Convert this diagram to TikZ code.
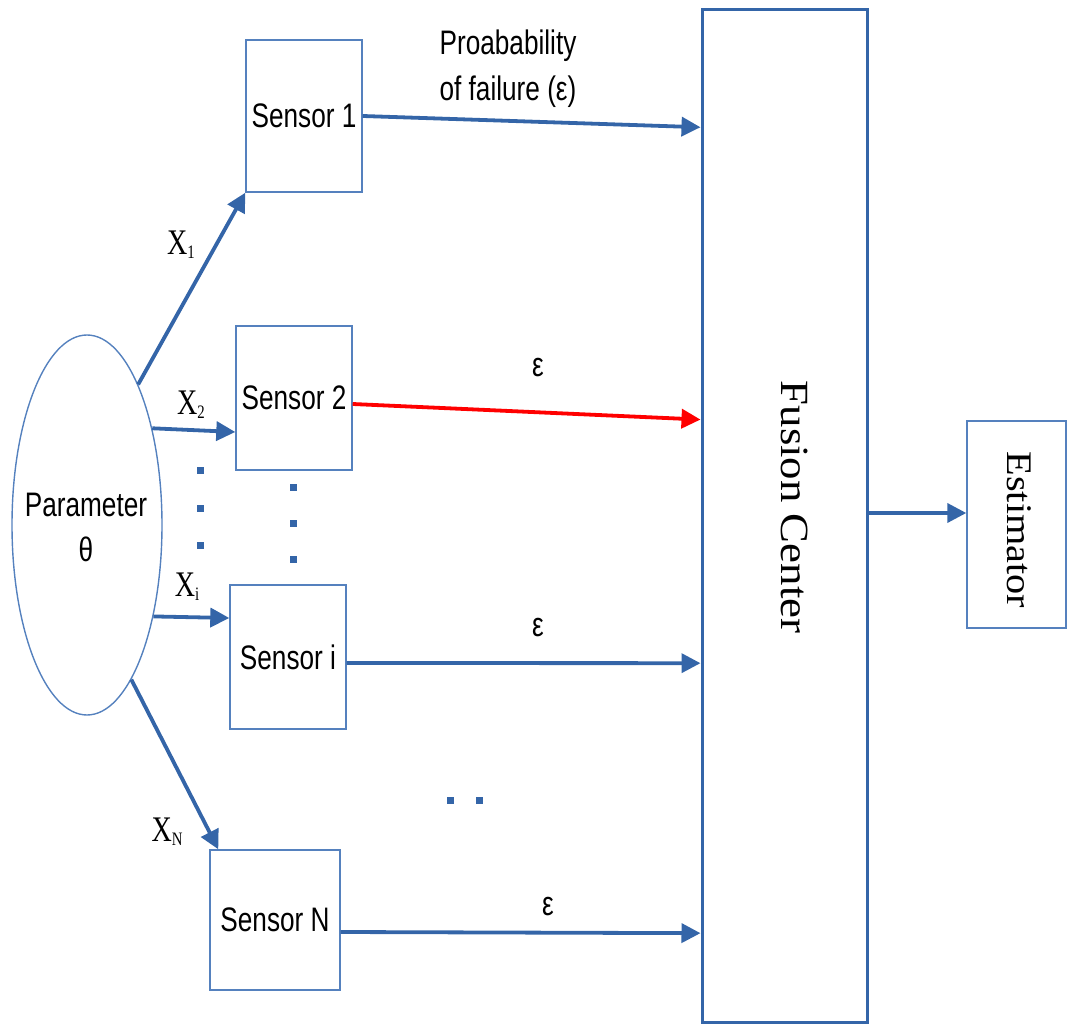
\documentclass[tikz,border=0pt]{standalone}
\usepackage{fontspec}
\setmainfont{Liberation Serif}
\newfontfamily\narrowsans[FakeStretch=0.77]{Liberation Sans}
\newfontfamily\narrowserif[FakeStretch=0.78]{Liberation Serif}
\newfontfamily\wideserif[FakeStretch=1.12]{Liberation Serif}
\usetikzlibrary{arrows.meta,%
                shapes,positioning,calc}
\definecolor{linkblue}{HTML}{3465A8}
\definecolor{boxblue}{HTML}{5581BE}
\newcommand{\xsub}[1]{\raisebox{-4pt}{\fontsize{19}{20}\selectfont #1}}

\begin{document}
\begin{tikzpicture}[x=1pt,y=-1pt,
  sensorbox/.style={draw=boxblue,line width=1.4pt,inner sep=0pt,
    font=\narrowsans\fontsize{34}{40}\selectfont},
  link/.style={draw=linkblue,line width=3.8pt,-{Triangle[length=19pt,width=19pt]}},
  sublabel/.style={inner sep=0pt,font=\narrowserif\fontsize{36}{40}\selectfont},
  eplabel/.style={inner sep=0pt,font=\narrowsans\fontsize{34}{46}\selectfont,align=center}]
\useasboundingbox (0,0) rectangle (1069,1024);

\node[ellipse,draw=boxblue,line width=1.4pt,minimum width=150pt,minimum height=380pt,inner sep=0pt] (param) at (87,525) {};
\node[eplabel,font=\narrowsans\fontsize{34}{45}\selectfont] (ptext) at (86,527) {Parameter\\θ};

\node[sensorbox,minimum width=116pt,minimum height=152pt] (s1) at (304,116) {Sensor 1};
\node[sensorbox,minimum width=116pt,minimum height=144pt] (s2) at (294,398) {Sensor 2};
\node[sensorbox,minimum width=116pt,minimum height=144pt] (si) at (288,657) {Sensor i};
\node[sensorbox,minimum width=130pt,minimum height=140pt] (sN) at (275,920) {Sensor N};

\node[draw=linkblue,line width=3pt,minimum width=165pt,minimum height=1012pt,inner sep=0pt] (fc) at (784.5,516) {};
\node[rotate=-90,inner sep=0pt,font=\wideserif\fontsize{40}{44}\selectfont] (fctext) at (795,507) {Fusion Center};
\node[draw=boxblue,line width=1.4pt,minimum width=99pt,minimum height=207pt,inner sep=0pt] (est) at (1016.5,524.5) {};
\node[rotate=-90,inner sep=0pt,font=\wideserif\fontsize{36}{40}\selectfont] (esttext) at (1019,530) {Estimator};

\draw[link] (param.70) -- (s1.south west);
\draw[link] (param.56) -- ([yshift=-34pt]s2.west);
\draw[link] (param.-54) -- ([yshift=39pt]si.west);
\draw[link] (param.-74) -- ([xshift=9pt]sN.north west);

\draw[link] (s1.east) -- ($(fc.north west)!0.117!(fc.south west)$);
\draw[link,draw=red] ([yshift=-6pt]s2.east) -- ($(fc.north west)!0.405!(fc.south west)$);
\draw[link] ([yshift=-6pt]si.east) -- ($(fc.north west)!0.645!(fc.south west)$);
\draw[link] ([yshift=-12pt]sN.east) -- ($(fc.north west)!0.911!(fc.south west)$);
\draw[link] (fc.east |- 0,513) -- (est.west |- 0,513);

\node[sublabel] (x1) at (181,245) {X\xsub{1}};
\node[sublabel] (x2) at (191,405) {X\xsub{2}};
\node[sublabel] (xi) at (187,587) {X\xsub{i}};
\node[sublabel] (xN) at (167,832) {X\xsub{N}};

\node[eplabel] (fail) at (508,69) {Proabability\\of failure (ε)};
\node[eplabel] (e2) at (538,368) {ε};
\node[eplabel] (ei) at (538,628) {ε};
\node[eplabel] (eN) at (548,907) {ε};

\fill[linkblue] (196.5,466.5) rectangle ++(7,7);
\fill[linkblue] (196.5,504.5) rectangle ++(7,7);
\fill[linkblue] (196.5,541.5) rectangle ++(7,7);
\fill[linkblue] (289.5,483.5) rectangle ++(7,7);
\fill[linkblue] (289.5,519.5) rectangle ++(7,7);
\fill[linkblue] (289.5,555.5) rectangle ++(7,7);
\fill[linkblue] (446.5,796.5) rectangle ++(7,7);
\fill[linkblue] (475.5,796.5) rectangle ++(7,7);

\end{tikzpicture}
\end{document}
